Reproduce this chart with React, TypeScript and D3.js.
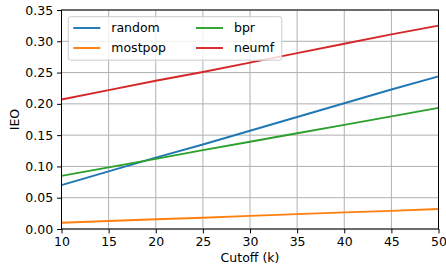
import React, { useEffect, useRef } from 'react';
import * as d3 from 'd3';

// cutoff values (k) and IEO
const cutoffs = [10, 15, 20, 25, 30, 35, 40, 45, 50];
const randomIEO = [0.070, 0.092, 0.114, 0.135, 0.157, 0.179, 0.201, 0.223, 0.244];
const mostpopIEO = [0.010, 0.0128, 0.0155, 0.018, 0.021, 0.0237, 0.0265, 0.029, 0.032];
const bprIEO = [0.085, 0.0985, 0.112, 0.126, 0.1395, 0.153, 0.1665, 0.180, 0.1935];
const neumfIEO = [0.207, 0.222, 0.237, 0.251, 0.266, 0.281, 0.296, 0.311, 0.325];

const seriesNames = ['random', 'mostpop', 'bpr', 'neumf'];
const seriesValues = [randomIEO, mostpopIEO, bprIEO, neumfIEO];
const seriesColors = ['#1f77b4', '#ff7f0e', '#2ca02c', '#d62728'];

const xTicks = [10, 15, 20, 25, 30, 35, 40, 45, 50];
const yTicks = [0, 0.05, 0.1, 0.15, 0.2, 0.25, 0.3, 0.35];

const FONT = '"DejaVu Sans", sans-serif';

const App = () => {
    const chartRef = useRef<SVGSVGElement>(null);

    useEffect(() => {
        const margin = { top: 10, right: 7.5, bottom: 38, left: 61.5 };
        const width = 446 - margin.left - margin.right;
        const height = 267 - margin.top - margin.bottom;

        const svg = d3.select(chartRef.current);
        svg.selectAll('*').remove();

        const g = svg
            .append('g')
            .attr('transform', `translate(${margin.left},${margin.top})`);

        const xScale = d3.scaleLinear().domain([10, 50]).range([0, width]);
        const yScale = d3.scaleLinear().domain([0, 0.35]).range([height, 0]);

        // grid
        g.append('g')
            .selectAll('line')
            .data(xTicks)
            .join('line')
            .attr('x1', (d) => xScale(d))
            .attr('x2', (d) => xScale(d))
            .attr('y1', 0)
            .attr('y2', height)
            .attr('stroke', '#b0b0b0')
            .attr('stroke-width', 1);
        g.append('g')
            .selectAll('line')
            .data(yTicks)
            .join('line')
            .attr('x1', 0)
            .attr('x2', width)
            .attr('y1', (d) => yScale(d))
            .attr('y2', (d) => yScale(d))
            .attr('stroke', '#b0b0b0')
            .attr('stroke-width', 1);

        // lines
        const line = d3
            .line<number>()
            .x((_, i) => xScale(cutoffs[i]))
            .y((d) => yScale(d));

        seriesValues.forEach((vals, i) => {
            g.append('path')
                .datum(vals)
                .attr('d', line)
                .attr('fill', 'none')
                .attr('stroke', seriesColors[i])
                .attr('stroke-width', 1.9);
        });

        // axes
        const xAxis = g
            .append('g')
            .attr('transform', `translate(0,${height})`)
            .call(
                d3.axisBottom(xScale).tickValues(xTicks).tickFormat(d3.format('d')).tickSize(4.4).tickPadding(4)
            );
        const yAxis = g
            .append('g')
            .call(
                d3.axisLeft(yScale).tickValues(yTicks).tickFormat(d3.format('.2f')).tickSize(4.4).tickPadding(4)
            );
        [xAxis, yAxis].forEach((a) => {
            a.select('.domain').remove();
            a.selectAll('line').attr('stroke', '#000').attr('stroke-width', 1);
            a.selectAll('text')
                .attr('fill', '#000')
                .style('font-family', FONT)
                .style('font-size', '12.5px');
        });

        // spines
        g.append('rect')
            .attr('width', width)
            .attr('height', height)
            .attr('fill', 'none')
            .attr('stroke', '#000')
            .attr('stroke-width', 1);

        // axis labels
        svg.append('text')
            .attr('x', margin.left + width / 2)
            .attr('y', 262)
            .attr('text-anchor', 'middle')
            .style('font-family', FONT)
            .style('font-size', '12.5px')
            .text('Cutoff (k)');
        svg.append('text')
            .attr('transform', `translate(19,${margin.top + height / 2}) rotate(-90)`)
            .attr('text-anchor', 'middle')
            .style('font-family', FONT)
            .style('font-size', '12.5px')
            .text('IEO');

        // legend
        const legend = g.append('g').attr('transform', 'translate(6.8,6.7)');
        legend
            .append('rect')
            .attr('width', 213.5)
            .attr('height', 43.5)
            .attr('rx', 2.5)
            .attr('fill', '#fff')
            .attr('fill-opacity', 0.8)
            .attr('stroke', '#cccccc')
            .attr('stroke-width', 1);
        seriesNames.forEach((name, i) => {
            const col = Math.floor(i / 2);
            const row = i % 2;
            const item = legend
                .append('g')
                .attr('transform', `translate(${5 + col * 122.7},${11.3 + row * 20})`);
            item.append('line')
                .attr('x1', 0)
                .attr('x2', 27)
                .attr('stroke', seriesColors[i])
                .attr('stroke-width', 1.9);
            item.append('text')
                .attr('x', 38)
                .attr('dy', '0.35em')
                .style('font-family', FONT)
                .style('font-size', '12.5px')
                .text(name);
        });
    }, []);

    return (
        <svg
            ref={chartRef}
            width={446}
            height={267}
            style={{ position: 'absolute', left: 0, top: 0, background: '#fff' }}
        />
    );
};

export default App;
